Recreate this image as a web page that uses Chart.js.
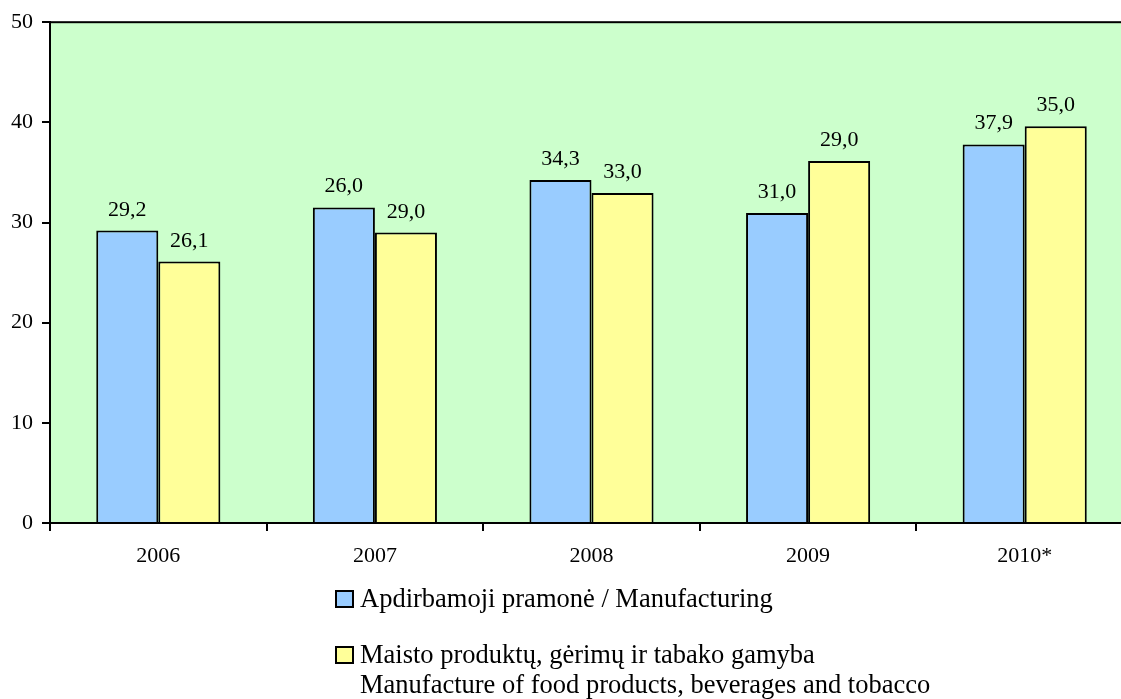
<!DOCTYPE html>
<html>
<head>
<meta charset="utf-8">
<script src="https://cdn.jsdelivr.net/npm/chart.js@4/dist/chart.umd.min.js"></script>
<style>
  html, body { margin: 0; padding: 0; background: #fff; overflow: hidden; }
  #wrap { width: 1133px; height: 699px; }
</style>
</head>
<body>
<div id="wrap"><canvas id="myChart"></canvas></div>
<script>
const years = ['2006', '2007', '2008', '2009', '2010*'];
const manufacturing = [29.2, 31.5, 34.25, 30.95, 37.8];
const foodTobacco = [26.1, 29.0, 32.95, 36.15, 39.6];
// labels printed above the bars (as in the source picture)
const manufacturingLabels = ['29,2', '26,0', '34,3', '31,0', '37,9'];
const foodTobaccoLabels = ['26,1', '29,0', '33,0', '29,0', '35,0'];
const yTicks = [0, 10, 20, 30, 40, 50];
const seriesNames = [
    ['Apdirbamoji pramonė / Manufacturing'],
    ['Maisto produktų, gėrimų ir tabako gamyba', 'Manufacture of food products, beverages and tobacco']
];

const serif = '"Liberation Serif", "Times New Roman", serif';

// green plot area with black frame
const plotBackground = {
    id: 'plotBackground',
    beforeDraw(chart) {
        const { ctx, chartArea: a } = chart;
        ctx.save();
        ctx.fillStyle = '#CCFFCC';
        ctx.fillRect(a.left, a.top, a.right - a.left, a.bottom - a.top);
        ctx.restore();
    },
    afterDraw(chart) {
        const { ctx, chartArea: a } = chart;
        ctx.save();
        ctx.strokeStyle = '#000';
        ctx.lineWidth = 2;
        ctx.strokeRect(a.left, a.top, a.right - a.left, a.bottom - a.top);
        ctx.restore();
    }
};

// value labels above each bar
const valueLabels = {
    id: 'valueLabels',
    afterDatasetsDraw(chart) {
        const ctx = chart.ctx;
        const lists = [manufacturingLabels, foodTobaccoLabels];
        ctx.save();
        ctx.font = '22px ' + serif;
        ctx.fillStyle = '#000';
        ctx.textAlign = 'center';
        ctx.textBaseline = 'alphabetic';
        chart.data.datasets.forEach((ds, i) => {
            chart.getDatasetMeta(i).data.forEach((bar, j) => {
                ctx.fillText(lists[i][j], bar.x, bar.y - 15);
            });
        });
        ctx.restore();
    }
};

// legend below the axis
const bottomLegend = {
    id: 'bottomLegend',
    afterDraw(chart) {
        const ctx = chart.ctx;
        const boxX = 336, textX = 360;
        const rows = [607, 663];
        ctx.save();
        ctx.font = '26.5px ' + serif;
        ctx.textAlign = 'left';
        ctx.textBaseline = 'alphabetic';
        chart.data.datasets.forEach((ds, i) => {
            const base = rows[i];
            ctx.fillStyle = ds.backgroundColor;
            ctx.fillRect(boxX, base - 16, 17, 16);
            ctx.strokeStyle = '#000';
            ctx.lineWidth = 2;
            ctx.strokeRect(boxX, base - 16, 17, 16);
            ctx.fillStyle = '#000';
            seriesNames[i].forEach((line, k) => {
                ctx.fillText(line, textX, base + k * 30);
            });
        });
        ctx.restore();
    }
};

const ctx = document.getElementById('myChart').getContext('2d');
const myChart = new Chart(ctx, {
    type: 'bar',
    data: {
        labels: years,
        datasets: [{
            label: seriesNames[0].join(' '),
            data: manufacturing,
            backgroundColor: '#99CCFF',
            borderColor: '#000',
            borderWidth: 2,
            borderSkipped: 'bottom'
        }, {
            label: seriesNames[1].join(' '),
            data: foodTobacco,
            backgroundColor: '#FFFF99',
            borderColor: '#000',
            borderWidth: 2,
            borderSkipped: 'bottom'
        }]
    },
    options: {
        responsive: true,
        maintainAspectRatio: false,
        animation: false,
        events: [],
        layout: { padding: { top: 20, right: 0, bottom: 136, left: 0 } },
        categoryPercentage: 0.573,
        barPercentage: 1,
        plugins: {
            legend: { display: false },
            tooltip: { enabled: false }
        },
        scales: {
            x: {
                grid: {
                    offset: true,
                    drawOnChartArea: false,
                    drawTicks: true,
                    tickLength: 8,
                    color: '#000',
                    lineWidth: 2
                },
                border: { color: '#000', width: 2 },
                ticks: {
                    color: '#000',
                    font: { family: serif, size: 22 },
                    padding: 12,
                    maxRotation: 0
                },
                afterFit(scale) { scale.height = 40; }
            },
            y: {
                min: 0,
                max: 50,
                afterBuildTicks(scale) { scale.ticks = yTicks.map(v => ({ value: v })); },
                grid: {
                    drawOnChartArea: false,
                    drawTicks: true,
                    tickLength: 8,
                    color: '#000',
                    lineWidth: 2
                },
                border: { color: '#000', width: 2 },
                ticks: {
                    color: '#000',
                    font: { family: serif, size: 22 },
                    padding: 9
                },
                afterFit(scale) { scale.width = 50; }
            }
        }
    },
    plugins: [plotBackground, valueLabels, bottomLegend]
});
</script>
</body>
</html>
